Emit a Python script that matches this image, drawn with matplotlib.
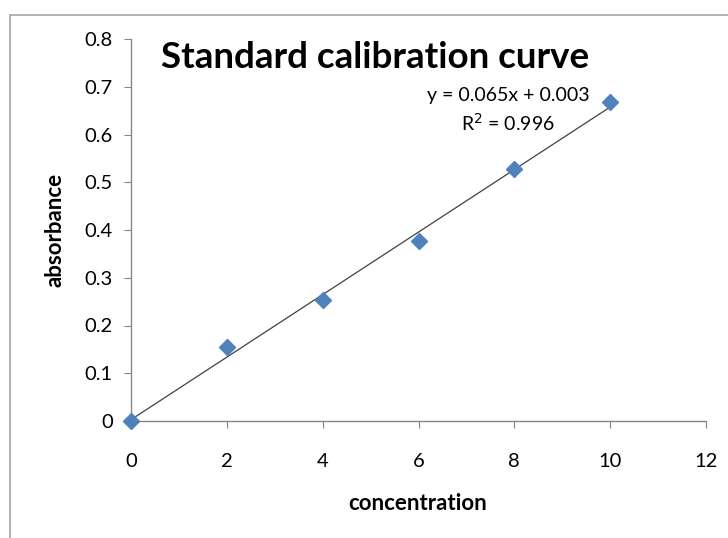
import numpy as np
import matplotlib
matplotlib.use("Agg")
import matplotlib.pyplot as plt
from matplotlib.patches import Rectangle

plt.rcParams['font.family'] = ['Lato', 'DejaVu Sans']

concentration = [0, 2, 4, 6, 8, 10]
absorbance = [0.0, 0.155, 0.253, 0.377, 0.528, 0.668]
x_ticks = [0, 2, 4, 6, 8, 10, 12]
y_ticks = [0, 0.1, 0.2, 0.3, 0.4, 0.5, 0.6, 0.7, 0.8]
y_tick_labels = ['0', '0.1', '0.2', '0.3', '0.4', '0.5', '0.6', '0.7', '0.8']
title = "Standard calibration curve"
equation = "y = 0.065x + 0.003"
r2_text = "R$^2$ = 0.996"

fig = plt.figure(figsize=(7.28, 5.38), dpi=100)
fig.patch.set_facecolor('white')
# outer chart frame (partially visible)
fig.patches.append(Rectangle((10/728, -0.1), 1.2, (538-15)/538 + 0.1,
                             transform=fig.transFigure, fill=False,
                             edgecolor='#a6a6a6', linewidth=1.2))

ax = fig.add_axes([131/728, 117/538, 575/728, 382/538])
ax.set_xlim(0, 12)
ax.set_ylim(0, 0.8)

coef = np.polyfit(concentration, absorbance, 1)
xl = np.array([0, 10])
ax.plot(xl, np.polyval(coef, xl), color='#404040', linewidth=0.9, zorder=2)
ax.plot(concentration, absorbance, linestyle='none', marker='D', markersize=8,
        color='#4f81bd', markeredgecolor='#4f81bd', zorder=3, clip_on=False)

for s in ['top', 'right']:
    ax.spines[s].set_visible(False)
for s in ['left', 'bottom']:
    ax.spines[s].set_color('#868686')
    ax.spines[s].set_linewidth(1.0)

ax.set_xticks(x_ticks)
ax.set_xticklabels([str(t) for t in x_ticks])
ax.set_yticks(y_ticks)
ax.set_yticklabels(y_tick_labels)
ax.tick_params(axis='both', direction='out', length=5, color='#868686',
               labelsize=14.5, labelcolor='black')
ax.tick_params(axis='x', pad=18)
ax.tick_params(axis='y', pad=8)

ax.set_xlabel("concentration", fontsize=16, fontweight='bold', va='center')
ax.set_ylabel("absorbance", fontsize=16, fontweight='bold', va='center')
ax.xaxis.set_label_coords((418 - 131) / 575, (421 - 503) / 382)
ax.yaxis.set_label_coords((55 - 131) / 575, (421 - 230) / 382)

fig.text(375/728, 1 - 57/538, title, fontsize=26.5, fontweight='bold',
         ha='center', va='center')
fig.text(508/728, 1 - 95/538, equation, fontsize=14, ha='center', va='center')
fig.text(508/728, 1 - 123/538, r2_text, fontsize=14, ha='center', va='center')

fig.savefig("out.png", dpi=100)
